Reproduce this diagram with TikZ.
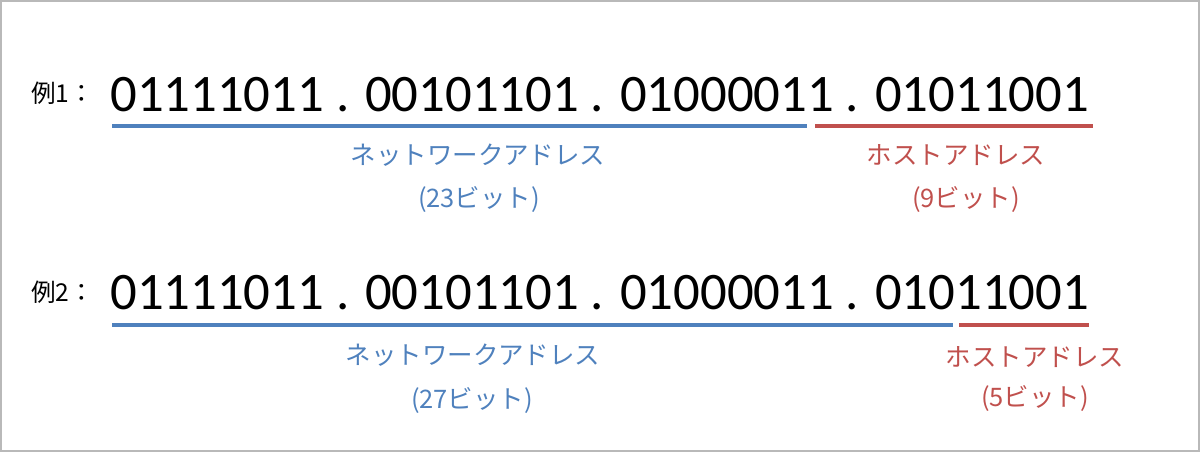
\documentclass[tikz,border=0pt]{standalone}
\usepackage{fontspec}
\setmainfont{Carlito}
\newfontfamily\jp{Noto Sans CJK JP}
\usepackage{xcolor}
\usepackage{tikz}
\usetikzlibrary{positioning}
\definecolor{netblue}{RGB}{79,129,189}
\definecolor{hostred}{RGB}{192,80,77}
\tikzset{
	addr/.style={inner sep=0pt, anchor=base west, font=\fontsize{30pt}{36pt}\selectfont},
	exlabel/.style={inner sep=0pt, anchor=west, font=\jp\fontsize{14pt}{17pt}\selectfont},
	part/.style={inner sep=0pt, font=\jp\fontsize{14.5pt}{17pt}\selectfont},
	underline/.style={line width=2.6pt}
}

\begin{document}
\begin{tikzpicture}
			\useasboundingbox (0, 0) rectangle (24, -9.04);
			\draw[gray!55, line width=1.1pt] (0.02, -0.02) rectangle (23.98, -9.02);
			% example 1
			\draw
			node[exlabel] (ex1) at (0.62, -1.86){例1：}
			node[addr] (addr1) at (2.2, -2.24){01111011 . 00101101 . 01000011 . 01011001}
			node[part, text=netblue] (net1) at (9.56, -3.10){ネットワークアドレス}
			node[part, text=netblue] (netbits1) at (9.58, -3.98){(23ビット)}
			node[part, text=hostred] (host1) at (19.12, -3.10){ホストアドレス}
			node[part, text=hostred] (hostbits1) at (19.32, -3.98){(9ビット)};
			\coordinate (n1a) at (2.24, -2.52);
			\coordinate (n1b) at (16.14, -2.52);
			\coordinate (h1a) at (16.30, -2.52);
			\coordinate (h1b) at (21.86, -2.52);
			\draw [underline, netblue] (n1a) -- (n1b);
			\draw [underline, hostred] (h1a) -- (h1b);
			% example 2
			\draw
			node[exlabel] (ex2) at (0.62, -5.84){例2：}
			node[addr] (addr2) at (2.2, -6.18){01111011 . 00101101 . 01000011 . 01011001}
			node[part, text=netblue] (net2) at (9.46, -7.10){ネットワークアドレス}
			node[part, text=netblue] (netbits2) at (9.44, -8.00){(27ビット)}
			node[part, text=hostred] (host2) at (20.70, -7.14){ホストアドレス}
			node[part, text=hostred] (hostbits2) at (20.70, -7.96){(5ビット)};
			\coordinate (n2a) at (2.24, -6.50);
			\coordinate (n2b) at (19.06, -6.50);
			\coordinate (h2a) at (19.18, -6.50);
			\coordinate (h2b) at (21.78, -6.50);
			\draw [underline, netblue] (n2a) -- (n2b);
			\draw [underline, hostred] (h2a) -- (h2b);
		\end{tikzpicture}
\end{document}
